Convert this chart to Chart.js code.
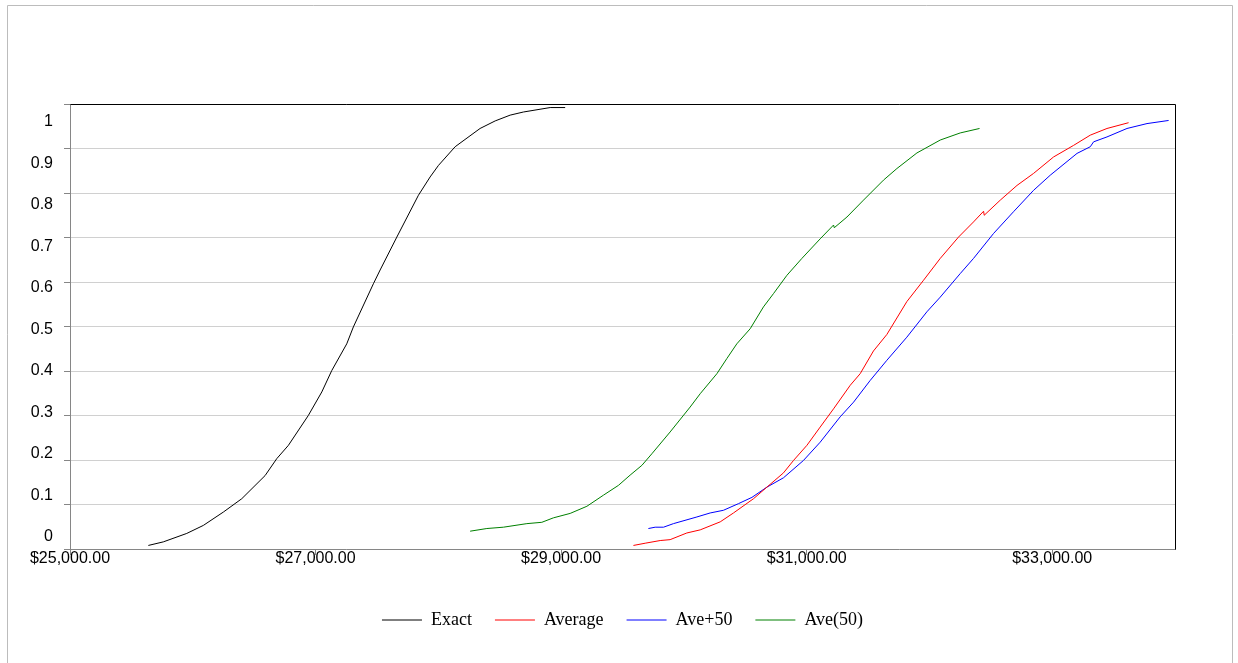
<!DOCTYPE html>
<html>
<head>
<meta charset="utf-8">
<script src="https://cdn.jsdelivr.net/npm/chart.js@4/dist/chart.umd.min.js"></script>
<style>
html,body{margin:0;padding:0;background:#fff;}
canvas{display:block;}
</style>
</head>
<body>
<canvas id="c" width="1238" height="663"></canvas>
<script>
// ---- data ----
const seriesNames = ['Exact', 'Average', 'Ave+50', 'Ave(50)'];

const exactX = [25638,25760,25951,26086,26249,26399,26589,26684,26779,26941,27051,27132,27254,27308,27471,27526,27662,27838,27933,28001,28137,28340,28463,28585,28693,28911,29033];
const exactY = [0.008,0.016,0.035,0.053,0.083,0.113,0.165,0.203,0.233,0.300,0.353,0.401,0.461,0.499,0.596,0.627,0.701,0.795,0.836,0.862,0.904,0.945,0.962,0.975,0.982,0.992,0.992];

const averageX = [29589,29685,29807,29888,30024,30133,30296,30404,30567,30676,30811,30893,31002,31110,31219,31355,31436,31544,31653,31816,31952,32088,32237,32359,32441,32446,32577,32713,32848,33011,33174,33310,33446,33622];
const averageY = [0.008,0.013,0.019,0.021,0.036,0.043,0.061,0.081,0.113,0.139,0.171,0.199,0.233,0.274,0.315,0.368,0.394,0.445,0.482,0.556,0.604,0.653,0.701,0.735,0.759,0.750,0.784,0.817,0.844,0.881,0.907,0.930,0.945,0.958];

const avePlusX = [29711,29766,29834,29915,30106,30214,30322,30445,30554,30676,30811,30974,31110,31273,31382,31518,31653,31816,31979,32088,32251,32359,32522,32685,32848,32984,33202,33310,33337,33446,33609,33772,33948];
const avePlusY = [0.046,0.049,0.049,0.057,0.072,0.081,0.087,0.102,0.116,0.139,0.160,0.199,0.240,0.297,0.330,0.379,0.424,0.476,0.533,0.566,0.619,0.653,0.709,0.758,0.806,0.840,0.889,0.904,0.915,0.926,0.945,0.956,0.963];

const ave50X = [28259,28395,28530,28721,28843,28937,29074,29210,29345,29467,29562,29658,29739,29888,30051,30133,30269,30350,30431,30540,30648,30730,30839,30961,31110,31219,31225,31328,31463,31626,31735,31898,32088,32251,32408];
const ave50Y = [0.040,0.046,0.049,0.057,0.060,0.070,0.080,0.096,0.121,0.143,0.166,0.188,0.214,0.263,0.319,0.349,0.394,0.428,0.461,0.495,0.544,0.574,0.615,0.653,0.697,0.728,0.722,0.746,0.784,0.829,0.855,0.890,0.919,0.935,0.945];

const xTickValues = [25000, 27000, 29000, 31000, 33000];
const xTickLabels = ['$25,000.00', '$27,000.00', '$29,000.00', '$31,000.00', '$33,000.00'];
const yTickValues = [0, 0.1, 0.2, 0.3, 0.4, 0.5, 0.6, 0.7, 0.8, 0.9, 1];
const yTickLabels = ['0', '0.1', '0.2', '0.3', '0.4', '0.5', '0.6', '0.7', '0.8', '0.9', '1'];

// ---- build ----
const pts = (xs, ys) => xs.map((x, i) => ({x: x, y: ys[i]}));
const colors = ['#000000', '#ff0000', '#0000ff', '#008000'];
const seriesData = [pts(exactX, exactY), pts(averageX, averageY), pts(avePlusX, avePlusY), pts(ave50X, ave50Y)];

const frame = {
  id: 'frame',
  beforeDraw(chart) {
    const ctx = chart.ctx;
    ctx.save();
    ctx.fillStyle = '#fff';
    ctx.fillRect(0, 0, chart.width, chart.height);
    ctx.strokeStyle = '#bcbcbc';
    ctx.lineWidth = 1;
    ctx.beginPath();
    ctx.moveTo(7.5, 700); ctx.lineTo(7.5, 5.5); ctx.lineTo(1232.5, 5.5); ctx.lineTo(1232.5, 700);
    ctx.stroke();
    ctx.restore();
  },
  afterDraw(chart) {
    const a = chart.chartArea, ctx = chart.ctx;
    ctx.save();
    ctx.strokeStyle = '#000';
    ctx.lineWidth = 1;
    ctx.beginPath();
    ctx.moveTo(Math.round(a.left) + 0.5, Math.round(a.top) + 0.5);
    ctx.lineTo(Math.round(a.right) + 0.5, Math.round(a.top) + 0.5);
    ctx.lineTo(Math.round(a.right) + 0.5, Math.round(a.bottom) + 0.5);
    ctx.stroke();
    ctx.restore();
  }
};

new Chart(document.getElementById('c'), {
  type: 'line',
  data: {
    datasets: seriesNames.map((n, i) => ({
      label: n,
      data: seriesData[i],
      borderColor: colors[i],
      backgroundColor: colors[i],
      borderWidth: 1,
      pointRadius: 0,
      fill: false,
      tension: 0
    }))
  },
  options: {
    responsive: false,
    animation: false,
    devicePixelRatio: 1,
    layout: { padding: { top: 104, left: 0, right: 63, bottom: 24 } },
    plugins: {
      tooltip: { enabled: false },
      legend: {
        position: 'bottom',
        fullSize: false,
        labels: {
          usePointStyle: true,
          pointStyle: 'line',
          pointStyleWidth: 40,
          padding: 23,
          color: '#000',
          font: { family: 'Liberation Serif', size: 18 }
        }
      }
    },
    scales: {
      x: {
        type: 'linear',
        min: 25000,
        max: 34000,
        afterBuildTicks: s => { s.ticks = xTickValues.map(v => ({value: v})); },
        afterFit: s => { s.height = 39; },
        ticks: {
          autoSkip: false,
          maxRotation: 0,
          padding: -6,
          color: '#000',
          font: { family: 'Liberation Sans', size: 16 },
          callback: (v, i) => xTickLabels[i]
        },
        grid: { display: true, drawOnChartArea: false, drawTicks: true, tickLength: 6, color: '#868686' },
        border: { color: '#868686', width: 1 }
      },
      y: {
        type: 'linear',
        min: 0,
        max: 1,
        weight: 0,
        afterBuildTicks: s => { s.ticks = yTickValues.map(v => ({value: v})); },
        afterFit: s => { s.width = 0; },
        ticks: { display: false },
        grid: { color: '#d0d0d0', tickColor: '#868686', tickLength: 6, drawTicks: true },
        border: { color: '#868686', width: 1 }
      },
      yl: {
        type: 'linear',
        position: 'left',
        min: -0.0289,
        max: 1.0434,
        weight: 1,
        afterBuildTicks: s => { s.ticks = yTickValues.map(v => ({value: v})); },
        afterFit: s => { s.width = 70; },
        ticks: {
          autoSkip: false,
          padding: 17,
          color: '#000',
          font: { family: 'Liberation Sans', size: 16 },
          callback: (v, i) => yTickLabels[i]
        },
        grid: { display: false, drawTicks: false },
        border: { display: false }
      }
    }
  },
  plugins: [frame]
});
</script>
</body>
</html>
